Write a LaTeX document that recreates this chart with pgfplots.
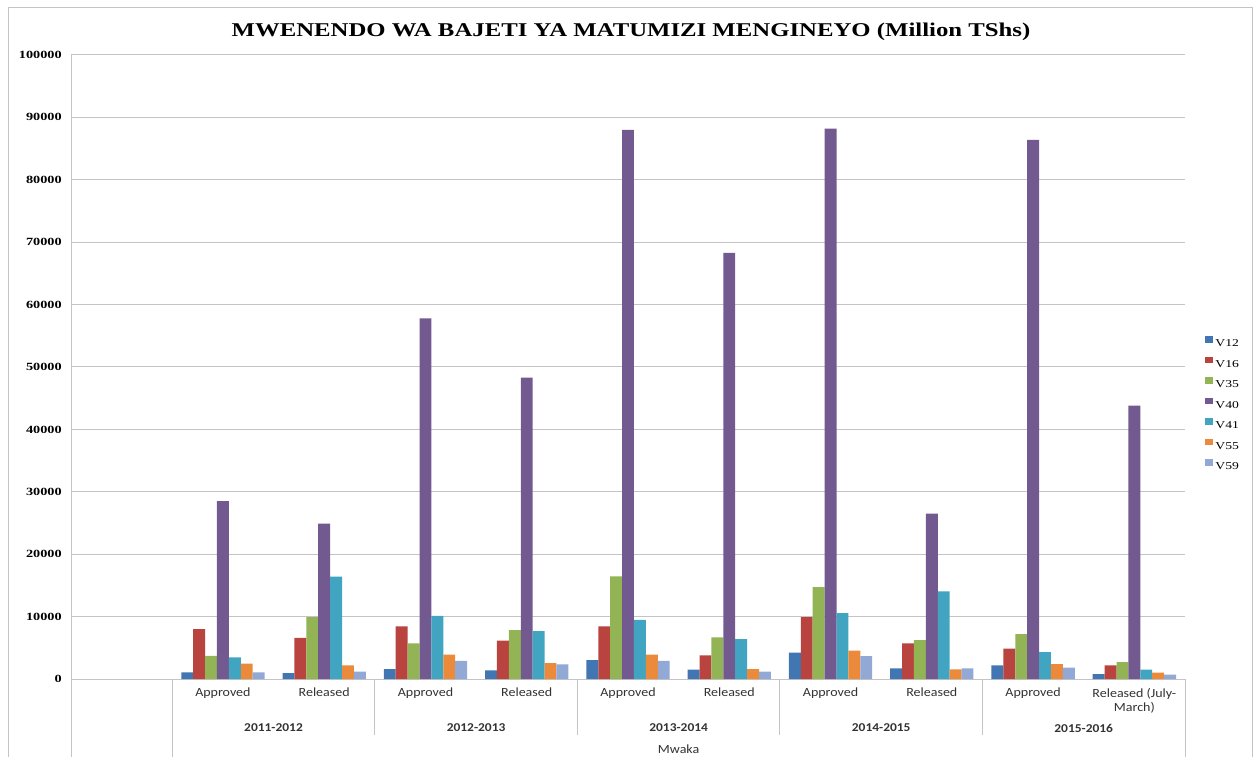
\documentclass[border=0pt]{standalone}
\usepackage{fontspec}
\setmainfont{Liberation Serif}
\newfontfamily\calfont{Carlito}
\usepackage{pgfplots}
\pgfplotsset{compat=1.18}
\usepackage{pgfplotstable}

\definecolor{cA}{HTML}{4176B2}
\definecolor{cB}{HTML}{B8433F}
\definecolor{cC}{HTML}{92B454}
\definecolor{cD}{HTML}{72598F}
\definecolor{cE}{HTML}{41A5C1}
\definecolor{cF}{HTML}{EC8A3C}
\definecolor{cG}{HTML}{91A9D4}
\definecolor{gridc}{HTML}{C4C4C4}
\definecolor{labc}{HTML}{333333}

% the reference text is stretched sideways
\newcommand{\wide}[1]{\scalebox{1.3}[1]{#1}}
\newcommand{\cwide}[1]{\scalebox{1.12}[1]{#1}}

% slot 0 is the empty first category
\pgfplotstableread{
x V12 V16 V35 V40 V41 V55 V59
1 1050 8000 3700 28500 3450 2450 1050
2 960 6600 9900 24900 16400 2200 1170
3 1600 8430 5700 57800 10100 3900 2900
4 1400 6130 7840 48300 7680 2560 2350
5 3040 8430 16430 88000 9490 3900 2900
6 1490 3790 6670 68300 6400 1600 1170
7 4210 9920 14720 88200 10560 4530 3680
8 1710 5710 6240 26500 14030 1550 1710
9 2190 4850 7200 86400 4320 2400 1810
10 800 2190 2720 43800 1490 1010 690
}\budget

\begin{document}
\begin{tikzpicture}
\useasboundingbox (0bp,0bp) rectangle (1258bp,757bp);
\draw[gridc, line width=1bp] (8bp,-5bp) -- (8bp,749bp) -- (1252bp,749bp) -- (1252bp,-5bp);
\node[font=\bfseries\fontsize{19.5bp}{22bp}\selectfont] at (631bp,725.5bp)
  {\scalebox{1.27}[1]{MWENENDO WA BAJETI YA MATUMIZI MENGINEYO (Million TShs)}};
\begin{axis}[
  at={(71bp,78bp)}, anchor=south west,
  scale only axis,
  width=1114bp, height=624bp,
  ybar,
  xmin=-0.5, xmax=10.5,
  ymin=0, ymax=100000,
  ytick distance=10000,
  scaled y ticks=false,
  yticklabel={\wide{\pgfmathprintnumber[fixed, precision=0, set thousands separator={}, assume math mode=true]{\tick}}},
  axis lines*=left,
  axis line style={gridc, line width=1bp},
  ymajorgrids,
  grid style={gridc, line width=1bp},
  major tick length=0pt,
  yticklabel style={anchor=east, inner sep=0pt, xshift=-9bp,
    font=\bfseries\fontsize{11bp}{13bp}\selectfont},
  xtick={1,...,10},
  xticklabels={\cwide{Approved},\cwide{Released},\cwide{Approved},\cwide{Released},\cwide{Approved},\cwide{Released},\cwide{Approved},\cwide{Released},\cwide{Approved},{\cwide{Released (July-}\\\cwide{March)}}},
  xticklabel style={anchor=north, inner sep=0pt, yshift=-9bp, align=center, text=labc,
    font=\calfont\fontsize{12.5bp}{14bp}\selectfont},
  clip=false,
  legend style={at={(1.0155,0.553)}, anchor=north west, draw=none, fill=none,
    font=\fontsize{10.5bp}{12bp}\selectfont, row sep=10bp,
    nodes={inner ysep=0pt, inner xsep=2bp, text height=8bp, text depth=0bp}},
  legend cell align=left,
  legend image code/.code={\fill[#1] (0bp,0bp) rectangle (8bp,6.5bp);},
]
\addplot[fill=cA, draw=none, bar width=0.1175, bar shift=-0.3525] table[x=x,y=V12] {\budget};
\addplot[fill=cB, draw=none, bar width=0.1175, bar shift=-0.2350] table[x=x,y=V16] {\budget};
\addplot[fill=cC, draw=none, bar width=0.1175, bar shift=-0.1175] table[x=x,y=V35] {\budget};
\addplot[fill=cD, draw=none, bar width=0.1175, bar shift=0] table[x=x,y=V40] {\budget};
\addplot[fill=cE, draw=none, bar width=0.1175, bar shift=0.1175] table[x=x,y=V41] {\budget};
\addplot[fill=cF, draw=none, bar width=0.1175, bar shift=0.2350] table[x=x,y=V55] {\budget};
\addplot[fill=cG, draw=none, bar width=0.1175, bar shift=0.3525] table[x=x,y=V59] {\budget};
\legend{\wide{V12},\wide{V16},\wide{V35},\wide{V40},\wide{V41},\wide{V55},\wide{V59}}

% multi-level category frame
\draw[gridc, line width=1bp] (axis cs:-0.5,0) -- ++(0bp,-85bp);
\draw[gridc, line width=1bp] (axis cs:0.5,0) -- ++(0bp,-85bp);
\draw[gridc, line width=1bp] (axis cs:10.5,0) -- ++(0bp,-85bp);
\draw[gridc, line width=1bp] (axis cs:2.5,0) -- ++(0bp,-56bp);
\draw[gridc, line width=1bp] (axis cs:4.5,0) -- ++(0bp,-56bp);
\draw[gridc, line width=1bp] (axis cs:6.5,0) -- ++(0bp,-56bp);
\draw[gridc, line width=1bp] (axis cs:8.5,0) -- ++(0bp,-56bp);
\node[font=\calfont\bfseries\fontsize{12bp}{14bp}\selectfont, text=labc] at (axis cs:1.5,0) [yshift=-49bp] {\cwide{2011-2012}};
\node[font=\calfont\bfseries\fontsize{12bp}{14bp}\selectfont, text=labc] at (axis cs:3.5,0) [yshift=-49bp] {\cwide{2012-2013}};
\node[font=\calfont\bfseries\fontsize{12bp}{14bp}\selectfont, text=labc] at (axis cs:5.5,0) [yshift=-49bp] {\cwide{2013-2014}};
\node[font=\calfont\bfseries\fontsize{12bp}{14bp}\selectfont, text=labc] at (axis cs:7.5,0) [yshift=-49bp] {\cwide{2014-2015}};
\node[font=\calfont\bfseries\fontsize{12bp}{14bp}\selectfont, text=labc] at (axis cs:9.5,0) [yshift=-49bp] {\cwide{2015-2016}};
\node[font=\calfont\fontsize{12.5bp}{14bp}\selectfont, text=labc] at (axis cs:5.5,0) [yshift=-70bp] {\cwide{Mwaka}};
\end{axis}
\end{tikzpicture}
\end{document}
